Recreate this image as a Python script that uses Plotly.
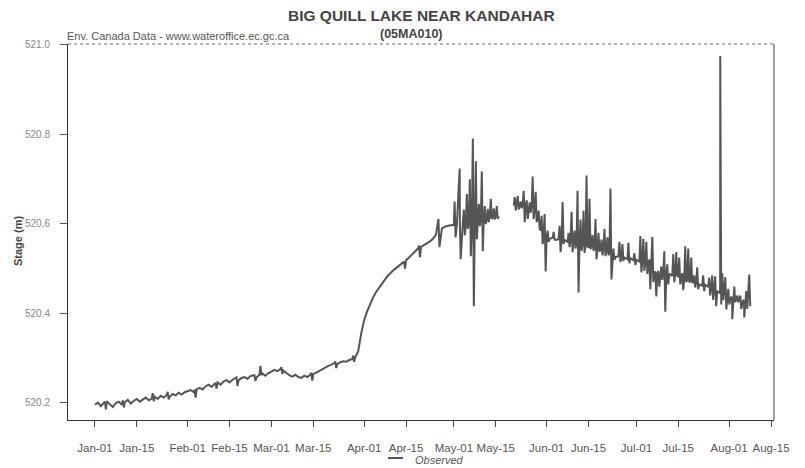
import pandas as pd
import plotly.graph_objects as go

# daily stage (m); None = missing
jan = [520.196, 520.201, 520.193, 520.199, 520.204, 520.197, 520.191, 520.200, 520.203, 520.196,
       520.202, 520.207, 520.199, 520.205, 520.209, 520.203, 520.208, 520.212, 520.206, 520.210,
       520.214, 520.209, 520.216, 520.212, 520.218, 520.214, 520.220, 520.217, 520.223, 520.219,
       520.224]
feb = [520.226, 520.229, 520.224, 520.231, 520.234, 520.230, 520.237, 520.241, 520.236, 520.243,
       520.246, 520.241, 520.248, 520.251, 520.246, 520.252, 520.255, 520.250, 520.256, 520.258,
       520.254, 520.260, 520.262, 520.257, 520.263, 520.266, 520.261, 520.267]
mar = [520.270, 520.274, 520.271, 520.276, 520.272, 520.266, 520.262, 520.259, 520.263, 520.258,
       520.256, 520.261, 520.258, 520.263, 520.265, 520.268, 520.272, 520.275, 520.279, 520.283,
       520.285, 520.289, 520.287, 520.291, 520.293, 520.292, 520.296, 520.298, 520.302, 520.315,
       520.355]
apr = [520.385, 520.405, 520.422, 520.436, 520.448, 520.458, 520.467, 520.476, 520.485, 520.492,
       520.498, 520.503, 520.508, 520.513, 520.519, 520.525, 520.531, 520.538, 520.545, 520.549,
       520.553, 520.557, 520.561, 520.567, 520.576, 520.583, 520.590, 520.594, 520.596, 520.597]
may = [520.598, 520.600, 520.597, 520.603, 520.599, 520.605, 520.602, 520.608, 520.604, 520.611,
       520.614, 520.610, 520.617, 520.615, 520.619, 520.617, None, None, None, None,
       520.641, 520.644, 520.639, 520.645, 520.641, 520.636, 520.640, 520.633, 520.612, 520.585,
       520.575]
jun = [520.570, 520.567, 520.569, 520.564, 520.566, 520.562, 520.564, 520.560, 520.563, 520.565,
       520.558, 520.561, 520.556, 520.550, 520.547, 520.549, 520.545, 520.547, 520.543, 520.546,
       520.541, 520.536, 520.529, 520.526, 520.528, 520.523, 520.525, 520.521, 520.523, 520.519]
jul = [520.520, 520.516, 520.518, 520.513, 520.508, 520.499, 520.493, 520.490, 520.488, 520.491,
       520.486, 520.489, 520.484, 520.486, 520.481, 520.483, 520.478, 520.475, 520.472, 520.468,
       520.470, 520.465, 520.462, 520.464, 520.459, 520.457, 520.454, 520.450, 520.445, 520.441,
       520.438]
aug = [520.435, 520.430, 520.427, 520.432, 520.424, 520.421, 520.430]

# short excursions within a day: day offset from Jan 1, high, low
spike_day = [3, 9, 19, 24, 33, 40, 47, 53, 55, 62, 72, 80, 86,
             103, 108, 114.5,
             119.9, 121.6, 123, 124, 125, 126, 127, 128, 129, 130, 131, 132, 133, 134,
             140, 141, 142, 143, 144, 145, 146, 147, 148, 149, 150, 151,
             153, 155, 156, 158, 159, 160, 161, 162, 163, 164, 165, 166, 167, 168, 169, 170,
             171, 172, 173, 175, 176, 178, 180,
             182, 183, 184, 185, 186, 187, 188, 189, 190, 191, 193, 194, 195, 196, 197, 198,
             199, 200, 201, 203, 205, 206, 207, 208.7, 209.4, 210.4, 211.4,
             212.4, 213.4, 214.4, 215.4, 216.4, 217.4, 218.4]
spike_hi = [520.203, 520.206, 520.222, 520.225, 520.230, 520.245, 520.257, 520.262, 520.283, 520.280, 520.268, 520.293, 520.306,
            520.516, 520.552, 520.611,
            520.650, 520.724, 520.632, 520.667, 520.700, 520.791, 520.740, 520.645, 520.717, 520.640, 520.634, 520.656, 520.635, 520.640,
            520.660, 520.662, 520.650, 520.674, 520.653, 520.648, 520.706, 520.672, 520.630, 520.618, 520.622, 520.585,
            520.582, 520.596, 520.649, 520.580, 520.627, 520.585, 520.674, 520.610, 520.630, 520.708, 520.656, 520.575, 520.611, 520.580, 520.565, 520.589,
            520.570, 520.679, 520.545, 520.560, 520.555, 520.558, 520.535,
            520.573, 520.567, 520.560, 520.521, 520.571, 520.492, 520.495, 520.505, 520.539, 520.510, 520.533, 520.537, 520.525, 520.490, 520.550, 520.545,
            520.525, 520.485, 520.503, 520.485, 520.480, 520.485, 520.483, 520.975, 520.490, 520.481, 520.455,
            520.438, 520.460, 520.440, 520.440, 520.431, 520.450, 520.487]
spike_lo = [520.186, 520.190, 520.204, 520.208, 520.212, 520.232, 520.238, 520.249, 520.262, 520.265, 520.250, 520.278, 520.292,
            520.500, 520.525, 520.548,
            520.570, 520.521, 520.575, 520.589, 520.528, 520.416, 520.566, 520.595, 520.539, 520.600, 520.604, 520.611, 520.610, 520.611,
            520.630, 520.632, 520.635, 520.604, 520.611, 520.625, 520.611, 520.604, 520.590, 520.555, 520.494, 520.560,
            520.565, 520.537, 520.555, 520.548, 520.537, 520.545, 520.447, 520.540, 520.535, 520.551, 520.544, 520.540, 520.521, 520.538, 520.530, 520.528,
            520.530, 520.476, 520.520, 520.515, 520.517, 520.512, 520.508,
            520.492, 520.495, 520.488, 520.454, 520.470, 520.438, 520.460, 520.475, 520.404, 520.465, 520.470, 520.485, 520.465, 520.452, 520.470, 520.470,
            520.470, 520.458, 520.454, 520.450, 520.440, 520.430, 520.416, 520.420, 520.430, 520.409, 520.420,
            520.387, 520.425, 520.425, 520.410, 520.391, 520.410, 520.416]

tick_dates = ["2014-01-01", "2014-01-15", "2014-02-01", "2014-02-15", "2014-03-01", "2014-03-15",
              "2014-04-01", "2014-04-15", "2014-05-01", "2014-05-15", "2014-06-01", "2014-06-15",
              "2014-07-01", "2014-07-15", "2014-08-01", "2014-08-15"]
tick_text = ["Jan-01", "Jan-15", "Feb-01", "Feb-15", "Mar-01", "Mar-15", "Apr-01", "Apr-15",
             "May-01", "May-15", "Jun-01", "Jun-15", "Jul-01", "Jul-15", "Aug-01", "Aug-15"]
y_ticks = [520.2, 520.4, 520.6, 520.8, 521.0]

start = pd.Timestamp("2014-01-01")
daily = jan + feb + mar + apr + may + jun + jul + aug
base = pd.DataFrame({"t": pd.date_range(start, periods=len(daily), freq="D"), "v": daily})
hi = pd.DataFrame({"t": [start + pd.Timedelta(days=d + 0.33) for d in spike_day], "v": spike_hi})
lo = pd.DataFrame({"t": [start + pd.Timedelta(days=d + 0.66) for d in spike_day], "v": spike_lo})
df = pd.concat([base, hi, lo]).sort_values("t")

fig = go.Figure(go.Scatter(
    x=df["t"], y=df["v"], mode="lines", name="Observed",
    line=dict(color="#555555", width=2), connectgaps=False,
))

fig.update_layout(
    width=805, height=468,
    margin=dict(l=68, r=31, t=44, b=48),
    paper_bgcolor="white", plot_bgcolor="white",
    font=dict(family="Liberation Sans, Arial, sans-serif", color="#555555"),
    showlegend=False,
    xaxis=dict(
        range=["2013-12-23", "2014-08-16"],
        tickvals=tick_dates, ticktext=tick_text,
        showgrid=False, zeroline=False,
        showline=True, linecolor="#333333", linewidth=1,
        ticks="outside", ticklen=6, tickcolor="#444444",
        ticklabelstandoff=11,
        tickfont=dict(size=11.5, color="#555555"),
    ),
    yaxis=dict(
        range=[520.162, 521.002],
        tickvals=y_ticks, tickformat=".1f",
        showgrid=False, zeroline=False,
        showline=True, linecolor="#333333", linewidth=1,
        ticks="outside", ticklen=7, tickcolor="#555555",
        ticklabelstandoff=8,
        tickfont=dict(size=10, color="#888888"),
    ),
    shapes=[
        dict(type="line", xref="paper", yref="paper", x0=0, x1=1, y0=1, y1=1,
             line=dict(color="#666666", width=1, dash="dot")),
        dict(type="line", xref="paper", yref="paper", x0=1, x1=1, y0=0, y1=1,
             line=dict(color="#444444", width=1)),
        # legend sample
        dict(type="line", xref="paper", yref="paper", x0=0.4533, x1=0.4745, y0=-0.101, y1=-0.101,
             line=dict(color="#555555", width=2)),
    ],
    annotations=[
        dict(text="<b>BIG QUILL LAKE NEAR KANDAHAR</b>", xref="paper", yref="paper",
             x=0.5, y=1.077, xanchor="center", yanchor="middle", showarrow=False,
             font=dict(size=15.5, color="#444444")),
        dict(text="<b>(05MA010)</b>", xref="paper", yref="paper",
             x=0.486, y=1.027, xanchor="center", yanchor="middle", showarrow=False,
             font=dict(size=12.5, color="#444444")),
        dict(text="Env. Canada Data - www.wateroffice.ec.gc.ca", xref="paper", yref="paper",
             x=-0.004, y=1.020, xanchor="left", yanchor="middle", showarrow=False,
             font=dict(size=11, color="#555555")),
        dict(text="<b>Stage (m)</b>", xref="paper", yref="paper", textangle=-90,
             x=-0.0708, y=0.476, xanchor="center", yanchor="middle", showarrow=False,
             font=dict(size=11, color="#444444")),
        dict(text="<i>Observed</i>", xref="paper", yref="paper",
             x=0.4887, y=-0.106, xanchor="left", yanchor="middle", showarrow=False,
             font=dict(size=11, color="#555555")),
    ],
)

fig.write_html("out.html", config={"displayModeBar": False},
               post_script="document.body.style.margin = '0';")
